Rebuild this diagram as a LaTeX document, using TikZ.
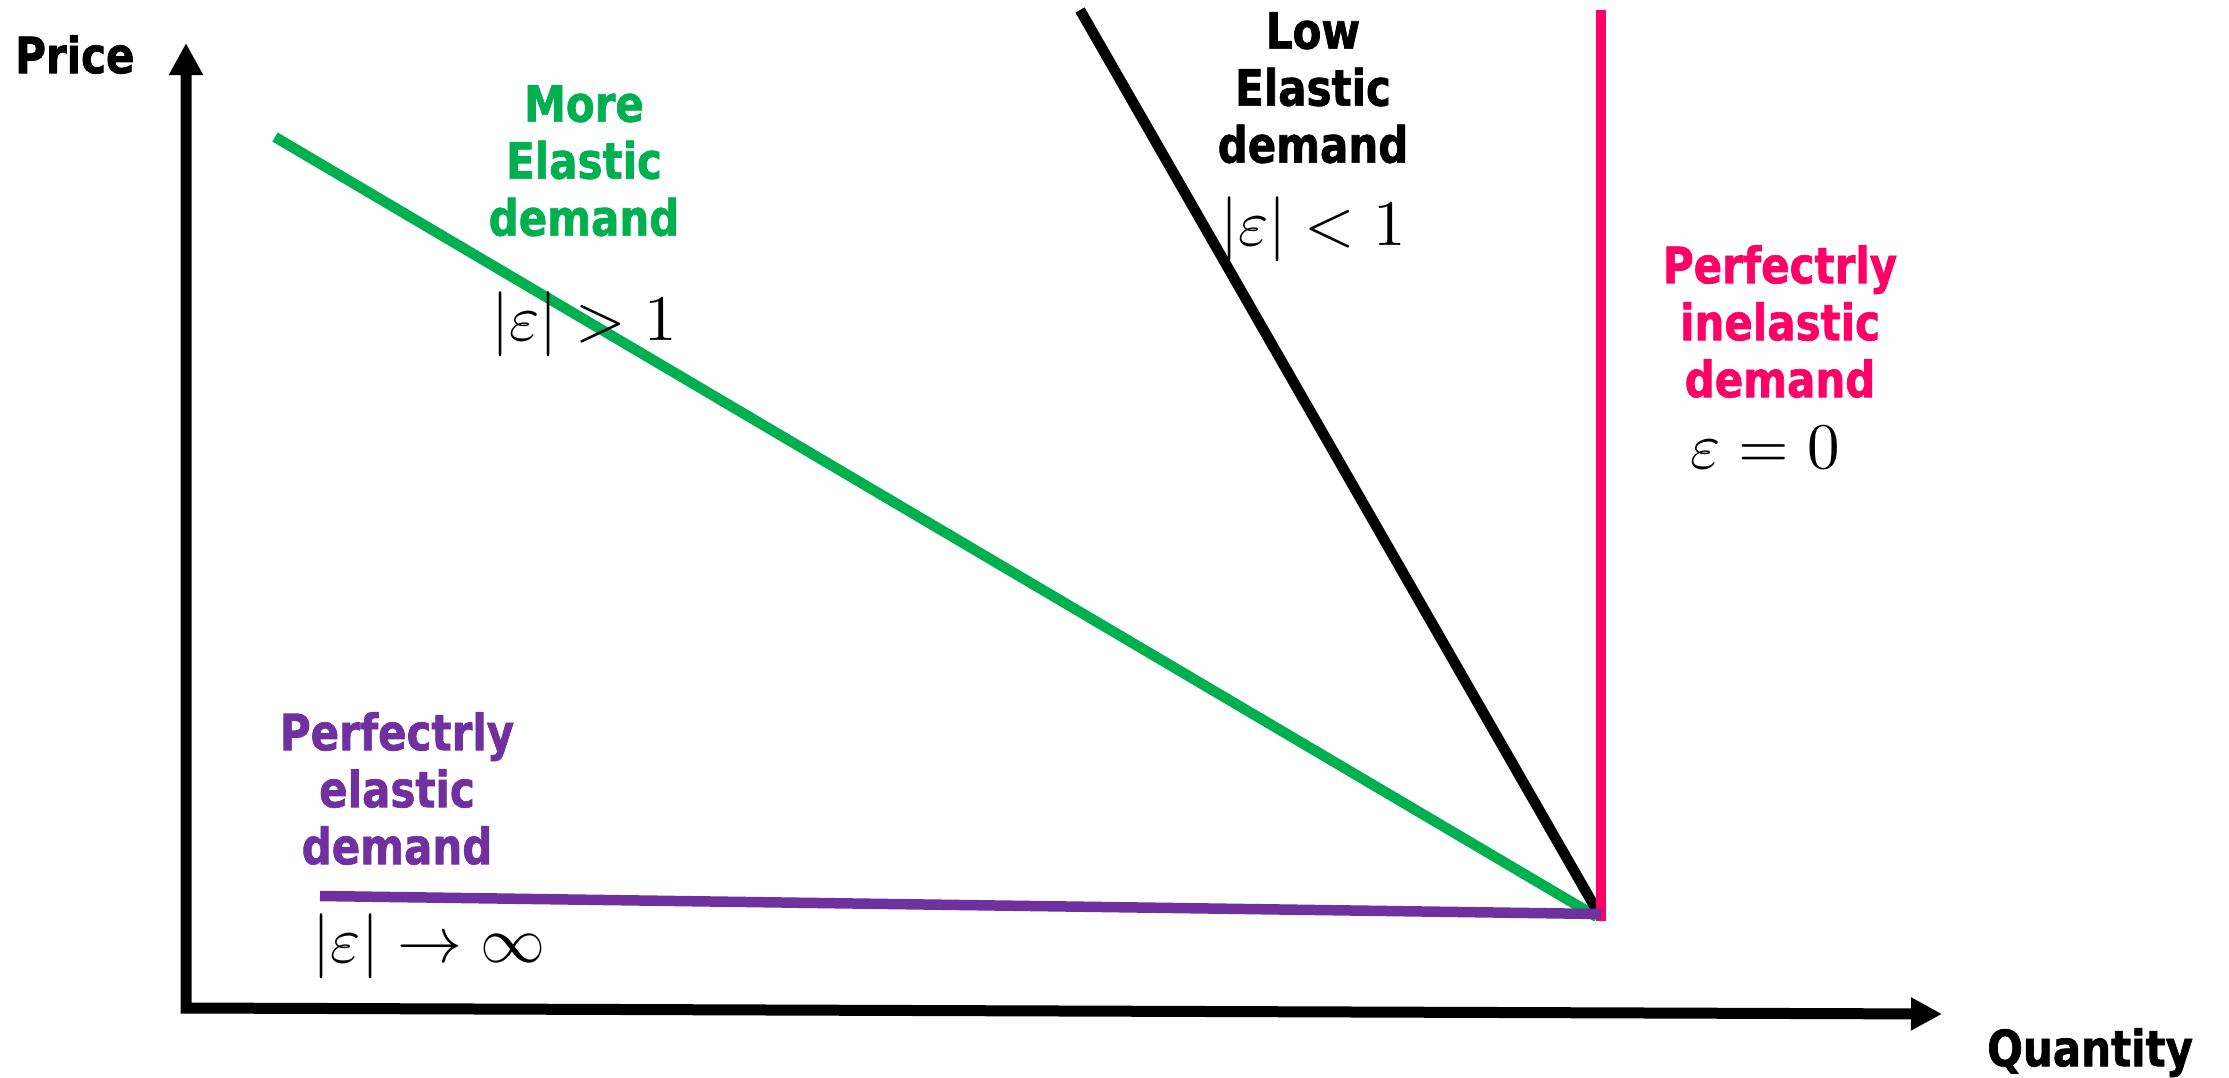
\documentclass[tikz,border=0pt]{standalone}
\usepackage{graphicx}
\usepackage{fontspec}
\usetikzlibrary{arrows.meta}
\newfontfamily\lblfont{DejaVu Sans}[FakeStretch=0.84, BoldFeatures={FakeBold=1.3}]
\definecolor{egreen}{RGB}{0,176,80}
\definecolor{epurple}{RGB}{112,48,160}
\definecolor{epink}{RGB}{255,0,102}
\newcommand{\bigmath}[1]{\scalebox{6.5}{$#1$}}
\tikzset{
  lbl/.style={font=\fontsize{50}{57}\selectfont\lblfont\bfseries, align=center, inner sep=0pt, anchor=north},
  mth/.style={font=\normalsize, inner sep=0pt, anchor=base},
  curve/.style={line width=10.5pt},
  axis/.style={line width=11pt, miter limit=10, {Triangle[length=32pt,width=32pt]}-{Triangle[length=31pt,width=31pt]}}
}
\begin{document}
\begin{tikzpicture}[x=1pt,y=-1pt]
\useasboundingbox (0,0) rectangle (2229,1077);
% axes
\coordinate (O) at (186,1008);
\coordinate (ytip) at (186,43);
\coordinate (xtip) at (1942,1014);
\draw[axis] (ytip) -- (O) -- (xtip);
% curves
\coordinate (g1) at (275,137);
\coordinate (g2) at (1597,917);
\coordinate (b1) at (1080,10);
\coordinate (b2) at (1596,909);
\coordinate (p1) at (1601,10);
\coordinate (p2) at (1601,921);
\coordinate (u1) at (320,896);
\coordinate (u2) at (1601,914);
\draw[curve, egreen] (g1) -- (g2);
\draw[curve, black] (b1) -- (b2);
\draw[curve, epink] (p1) -- (p2);
\draw[curve, epurple] (u1) -- (u2);
% labels
\node[lbl, anchor=north west] (price) at (15,35) {Price};
\node[lbl, anchor=north west] (qty) at (1987,1028) {Quantity};
\node[lbl, text=egreen] (gl) at (584,85) {More\\Elastic\\demand};
\node[lbl] (bl) at (1313,12) {Low\\Elastic\\demand};
\node[lbl, text=epink] (pl) at (1780,245) {Perfectrly\\inelastic\\demand};
\node[lbl, text=epurple] (ul) at (397,712) {Perfectrly\\elastic\\demand};
\node[mth] (gm) at (584,340) {\bigmath{|\varepsilon|>1}};
\node[mth] (bm) at (1313,245) {\bigmath{|\varepsilon|<1}};
\node[mth] (pm) at (1765,468) {\bigmath{\varepsilon=0}};
\node[mth] (um) at (429,962) {\bigmath{|\varepsilon|\rightarrow\infty}};
\end{tikzpicture}
\end{document}
